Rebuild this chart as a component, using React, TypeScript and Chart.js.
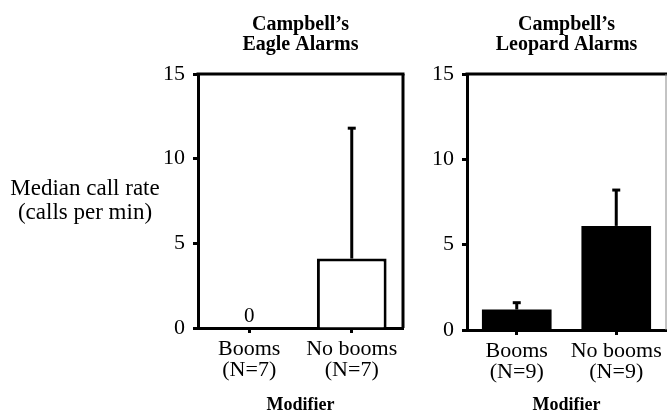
import React, { useEffect, useRef } from "react";
import { Chart, registerables } from "chart.js";

Chart.register(...registerables);

// ---------- data ----------
const eagleCategories = [["Booms", "(N=7)"], ["No booms", "(N=7)"]];
const leopardCategories = [["Booms", "(N=9)"], ["No booms", "(N=9)"]];
const eagleMedian = [0, 4.1];
const eagleUpper: (number | null)[] = [null, 11.8];
const eagleValueLabels: (string | null)[] = ["0", null];
const leopardMedian = [1.2, 6.1];
const leopardUpper: (number | null)[] = [1.6, 8.2];
const yMin = 0;
const yMax = 15;
const yStep = 5;
const eagleTitle = ["Campbell\u2019s", "Eagle Alarms"];
const leopardTitle = ["Campbell\u2019s", "Leopard Alarms"];
const yAxisTitle = ["Median call rate", "(calls per min)"];
const xAxisTitle = "Modifier";

const FONT = "'Liberation Serif', 'Times New Roman', Times, serif";
const W = 667;
const H = 418;

type PanelOpts = {
  categories: string[][];
  values: number[];
  upper: (number | null)[];
  valueLabels?: (string | null)[];
  title: string[];
  fill: string;
  barPct: number;
  padLeft: number;
  padRight: number;
  xHeight: number;
  rightBorder: { width: number; color: string };
  showYTitle: boolean;
};

function makeConfig(o: PanelOpts): any {
  const decor = {
    id: "decor",
    afterDatasetsDraw(chart: any) {
      const ctx = chart.ctx;
      const { left, right, top, bottom } = chart.chartArea;
      const meta = chart.getDatasetMeta(0);
      const y = chart.scales.y;
      ctx.save();
      // error bars
      ctx.strokeStyle = "#000";
      ctx.lineWidth = 3;
      o.upper.forEach((u, i) => {
        if (u == null) return;
        const bar = meta.data[i];
        const yTop = y.getPixelForValue(u);
        ctx.beginPath();
        ctx.moveTo(bar.x, bar.y);
        ctx.lineTo(bar.x, yTop);
        ctx.stroke();
        ctx.beginPath();
        ctx.moveTo(bar.x - 4, yTop);
        ctx.lineTo(bar.x + 4, yTop);
        ctx.stroke();
      });
      // value labels
      if (o.valueLabels) {
        ctx.fillStyle = "#000";
        ctx.font = `21px ${FONT}`;
        ctx.textAlign = "center";
        ctx.textBaseline = "alphabetic";
        o.valueLabels.forEach((t, i) => {
          if (!t) return;
          const bar = meta.data[i];
          ctx.fillText(t, bar.x, bar.y - 6);
        });
      }
      // frame: top and right
      ctx.lineWidth = 3;
      ctx.strokeStyle = "#000";
      ctx.beginPath();
      ctx.moveTo(left - 1.5, top);
      ctx.lineTo(right + 1.5, top);
      ctx.stroke();
      ctx.lineWidth = o.rightBorder.width;
      ctx.strokeStyle = o.rightBorder.color;
      ctx.beginPath();
      ctx.moveTo(right, top);
      ctx.lineTo(right, bottom);
      ctx.stroke();
      // panel title
      const cx = (left + right) / 2;
      ctx.fillStyle = "#000";
      ctx.font = `bold 20px ${FONT}`;
      ctx.textAlign = "center";
      ctx.textBaseline = "alphabetic";
      o.title.forEach((t, i) => ctx.fillText(t, cx, 30 + i * 20));
      // y axis title
      if (o.showYTitle) {
        ctx.font = `23px ${FONT}`;
        yAxisTitle.forEach((t, i) => ctx.fillText(t, 85, 195 + i * 24));
      }
      ctx.restore();
    },
  };

  return {
    type: "bar",
    data: {
      labels: o.categories,
      datasets: [
        {
          data: o.values,
          backgroundColor: o.fill,
          borderColor: "#000",
          borderWidth: o.fill === "#000" ? 0 : 3,
          borderSkipped: "start",
          barPercentage: o.barPct,
          categoryPercentage: 1,
        },
      ],
    },
    options: {
      responsive: false,
      animation: false,
      devicePixelRatio: 1,
      layout: {
        padding: { left: o.padLeft, right: o.padRight, top: 74, bottom: 0 },
      },
      plugins: {
        legend: { display: false },
        title: { display: false },
        tooltip: { enabled: false },
      },
      scales: {
        x: {
          type: "category",
          offset: true,
          grid: {
            offset: false,
            drawOnChartArea: false,
            drawTicks: true,
            tickLength: 5,
            tickWidth: 3,
            tickColor: "#000",
          },
          border: { display: true, width: 3, color: "#000" },
          ticks: {
            color: "#000",
            font: { family: FONT, size: 22, lineHeight: "21px" },
            padding: 6,
            maxRotation: 0,
            autoSkip: false,
          },
          title: {
            display: true,
            text: xAxisTitle,
            color: "#000",
            font: { family: FONT, size: 18, weight: "bold" },
            padding: { top: 0, bottom: 2 },
          },
          afterFit(scale: any) {
            scale.height = o.xHeight;
            scale.paddingLeft = 0;
            scale.paddingRight = 0;
          },
        },
        y: {
          min: yMin,
          max: yMax,
          grid: {
            drawOnChartArea: false,
            drawTicks: true,
            tickLength: 5,
            tickWidth: 3,
            tickColor: "#000",
          },
          border: { display: true, width: 3, color: "#000" },
          ticks: {
            stepSize: yStep,
            color: "#000",
            font: { family: FONT, size: 22 },
            padding: 8,
          },
          afterFit(scale: any) {
            scale.width = 40;
            scale.paddingTop = 0;
            scale.paddingBottom = 0;
          },
        },
      },
    },
    plugins: [decor],
  };
}

function Panel({ opts }: { opts: PanelOpts }) {
  const ref = useRef<HTMLCanvasElement | null>(null);
  useEffect(() => {
    if (!ref.current) return;
    const chart = new Chart(ref.current, makeConfig(opts));
    return () => chart.destroy();
  }, []);
  return (
    <canvas
      ref={ref}
      width={W}
      height={H}
      style={{ position: "absolute", left: 0, top: 0, width: W, height: H, display: "block" }}
    />
  );
}

export default function App() {
  const eagle: PanelOpts = {
    categories: eagleCategories,
    values: eagleMedian,
    upper: eagleUpper,
    valueLabels: eagleValueLabels,
    title: eagleTitle,
    fill: "#fff",
    barPct: 0.68,
    padLeft: 158,
    padRight: 264,
    xHeight: 90,
    rightBorder: { width: 3, color: "#000" },
    showYTitle: true,
  };
  const leopard: PanelOpts = {
    categories: leopardCategories,
    values: leopardMedian,
    upper: leopardUpper,
    title: leopardTitle,
    fill: "#000",
    barPct: 0.7,
    padLeft: 427,
    padRight: 1,
    xHeight: 88,
    rightBorder: { width: 1, color: "#888" },
    showYTitle: false,
  };
  return (
    <div style={{ position: "absolute", left: 0, top: 0, width: W, height: H, background: "#fff" }}>
      <Panel opts={eagle} />
      <Panel opts={leopard} />
    </div>
  );
}
